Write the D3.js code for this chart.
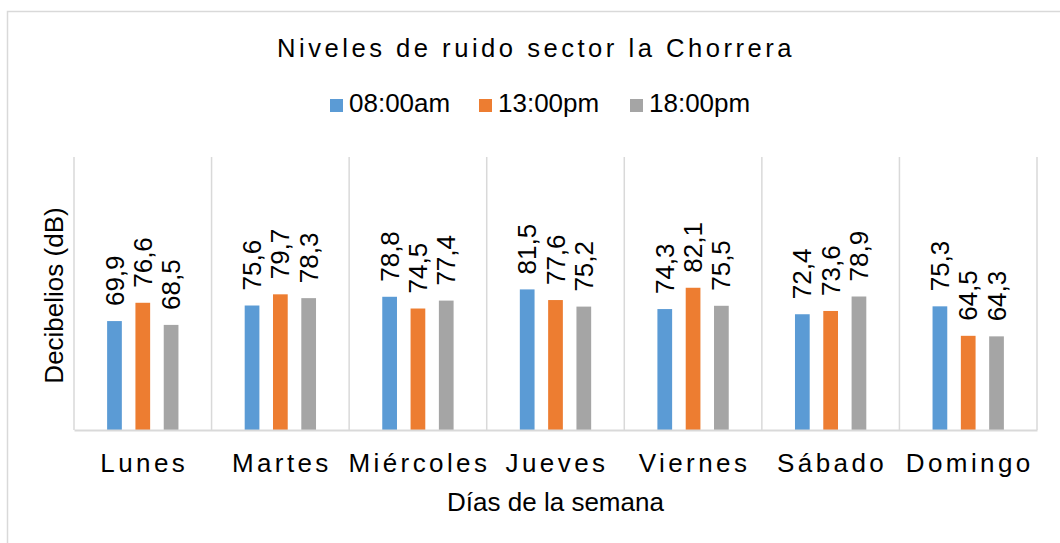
<!DOCTYPE html>
<html>
<head>
<meta charset="utf-8">
<script src="https://cdn.jsdelivr.net/npm/d3@7"></script>
<style>
  body { margin: 0; background: #fff; }
  svg text { font-family: "Liberation Sans", Arial, sans-serif; fill: #000; }
</style>
</head>
<body>
<div id="chart"></div>
<script>
// data
const days = ["Lunes", "Martes", "Miércoles", "Jueves", "Viernes", "Sábado", "Domingo"];
const seriesNames = ["08:00am", "13:00pm", "18:00pm"];
const am08 = [69.9, 75.6, 78.8, 81.5, 74.3, 72.4, 75.3];
const pm13 = [76.6, 79.7, 74.5, 77.6, 82.1, 73.6, 64.5];
const pm18 = [68.5, 78.3, 77.4, 75.2, 75.5, 78.9, 64.3];
const colors = ["#5B9BD5", "#ED7D31", "#A5A5A5"];

const width = 1060;
const height = 543;
const marginTop = 157;
const marginRight = 23;   // plot ends at 1037
const marginBottom = 113; // baseline at 430
const marginLeft = 74;

const values = [am08, pm13, pm18];
const rows = days.map((d, i) => ({ day: d, vals: values.map(v => v[i]) }));

const svg = d3.select("#chart").append("svg")
    .attr("width", width)
    .attr("height", height);

// chart area border (runs past the right and bottom edge)
svg.append("rect")
    .attr("x", 7.5).attr("y", 11.5)
    .attr("width", 1070).attr("height", 560)
    .attr("fill", "#fff")
    .attr("stroke", "#d9d9d9")
    .attr("stroke-width", 1.5);

const x = d3.scaleBand()
    .domain(days)
    .range([marginLeft, width - marginRight])
    .paddingInner(0).paddingOuter(0);

const xs = d3.scaleBand()
    .domain(d3.range(seriesNames.length))
    .range([0, x.bandwidth()])
    .paddingInner(0.48)
    .paddingOuter(1.17);

const y = d3.scaleLinear()
    .domain([30, 130])
    .range([height - marginBottom, marginTop]);

// vertical gridlines between the days
const grid = days.map(d => x(d)).concat([x.range()[1]]);
svg.append("g")
    .selectAll("line")
    .data(grid)
    .join("line")
    .attr("x1", d => d).attr("x2", d => d)
    .attr("y1", marginTop).attr("y2", height - marginBottom)
    .attr("stroke", "#d9d9d9")
    .attr("stroke-width", 1.5);

// bars
const groups = svg.append("g")
    .selectAll("g")
    .data(rows)
    .join("g")
    .attr("transform", d => `translate(${x(d.day)},0)`);

groups.selectAll("rect")
    .data(d => d.vals)
    .join("rect")
    .attr("x", (v, i) => xs(i))
    .attr("y", v => y(v))
    .attr("width", xs.bandwidth())
    .attr("height", v => y(30) - y(v))
    .attr("fill", (v, i) => colors[i]);

// rotated value labels
groups.selectAll("text")
    .data(d => d.vals)
    .join("text")
    .attr("transform", (v, i) => `translate(${xs(i) + xs.bandwidth() / 2},${y(v) - 15}) rotate(-90)`)
    .attr("dy", "0.35em")
    .attr("font-size", 26)
    .text(v => d3.format(".1f")(v).replace(".", ","));

// x axis baseline
svg.append("g")
    .attr("transform", `translate(0,${height - marginBottom})`)
    .call(d3.axisBottom(x).tickSize(0).tickPadding(0).tickFormat(""))
    .call(g => g.select(".domain").attr("stroke", "#d9d9d9").attr("stroke-width", 2));

// category labels
svg.append("g")
    .selectAll("text")
    .data(days)
    .join("text")
    .attr("x", d => x(d) + x.bandwidth() / 2 + 1.5)
    .attr("y", 472)
    .attr("text-anchor", "middle")
    .attr("font-size", 26)
    .attr("letter-spacing", 3.4)
    .text(d => d);

// titles
svg.append("text")
    .attr("x", 536)
    .attr("y", 57)
    .attr("text-anchor", "middle")
    .attr("font-size", 25.6)
    .attr("letter-spacing", 3.5)
    .text("Niveles de ruido sector la Chorrera");

svg.append("text")
    .attr("x", (marginLeft + width - marginRight) / 2)
    .attr("y", 511)
    .attr("text-anchor", "middle")
    .attr("font-size", 26)
    .text("Días de la semana");

svg.append("text")
    .attr("transform", `translate(63,${(marginTop + height - marginBottom) / 2 + 2}) rotate(-90)`)
    .attr("text-anchor", "middle")
    .attr("font-size", 26)
    .text("Decibelios (dB)");

// legend
const legendX = [330, 479, 630];
const legend = svg.append("g")
    .selectAll("g")
    .data(seriesNames)
    .join("g")
    .attr("transform", (d, i) => `translate(${legendX[i]},0)`);

legend.append("rect")
    .attr("x", 0).attr("y", 99)
    .attr("width", 13).attr("height", 13)
    .attr("fill", (d, i) => colors[i]);

legend.append("text")
    .attr("x", 19)
    .attr("y", 112)
    .attr("font-size", 26)
    .text(d => d);
</script>
</body>
</html>
